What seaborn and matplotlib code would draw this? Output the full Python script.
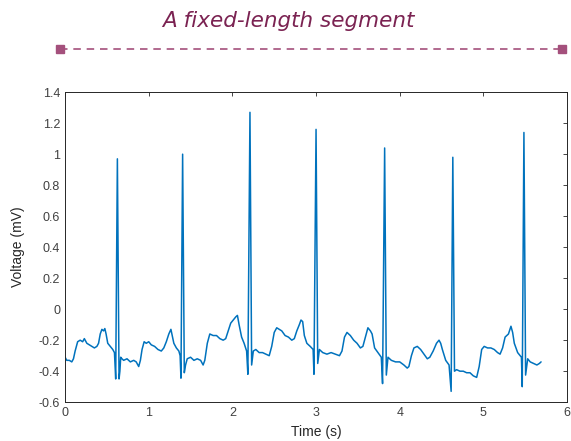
import numpy as np
import pandas as pd
import matplotlib
matplotlib.use("Agg")
import matplotlib.pyplot as plt
from matplotlib.lines import Line2D
import seaborn as sns

# ECG trace (time in s, voltage in mV)
tiempo = [
    0.00, 0.02, 0.05, 0.08, 0.10, 0.12, 0.15, 0.18, 0.21, 0.23, 0.26, 0.29, 0.32, 0.35, 0.38, 0.40,
    0.42, 0.44, 0.46, 0.475, 0.49, 0.51, 0.54, 0.57, 0.59, 0.605, 0.625, 0.645, 0.655, 0.665, 0.68,
    0.70, 0.74, 0.78, 0.82, 0.85, 0.88, 0.90, 0.92, 0.945, 0.97, 1.00, 1.03, 1.07, 1.11, 1.15, 1.18,
    1.21, 1.24, 1.265, 1.28, 1.30, 1.33, 1.36, 1.375, 1.385, 1.405, 1.425, 1.44, 1.46, 1.50, 1.54,
    1.58, 1.62, 1.65, 1.67, 1.70, 1.73, 1.77, 1.81, 1.85, 1.89, 1.92, 1.95, 1.98, 2.01, 2.04, 2.06,
    2.08, 2.11, 2.14, 2.17, 2.185, 2.21, 2.23, 2.25, 2.28, 2.32, 2.36, 2.40, 2.44, 2.47, 2.50, 2.53,
    2.56, 2.59, 2.63, 2.67, 2.71, 2.74, 2.77, 2.80, 2.82, 2.84, 2.86, 2.89, 2.93, 2.965, 2.975, 3.00,
    3.02, 3.04, 3.08, 3.13, 3.18, 3.23, 3.28, 3.31, 3.34, 3.37, 3.41, 3.45, 3.49, 3.53, 3.56, 3.59,
    3.62, 3.65, 3.67, 3.70, 3.74, 3.78, 3.795, 3.82, 3.84, 3.86, 3.90, 3.95, 4.00, 4.05, 4.09, 4.11,
    4.14, 4.17, 4.21, 4.25, 4.29, 4.33, 4.36, 4.40, 4.44, 4.47, 4.49, 4.51, 4.55, 4.59, 4.615, 4.635,
    4.655, 4.68, 4.72, 4.76, 4.80, 4.84, 4.88, 4.92, 4.95, 4.98, 5.01, 5.05, 5.09, 5.13, 5.17, 5.20,
    5.23, 5.26, 5.30, 5.33, 5.35, 5.37, 5.41, 5.455, 5.465, 5.485, 5.505, 5.53, 5.56, 5.60, 5.64,
    5.67, 5.69,
]
voltaje = [
    -0.31, -0.33, -0.33, -0.34, -0.32, -0.27, -0.21, -0.20, -0.21, -0.19, -0.22, -0.23, -0.24, -0.25, -0.24, -0.22,
    -0.16, -0.13, -0.14, -0.125, -0.16, -0.22, -0.24, -0.26, -0.28, -0.45, 0.97, -0.45, -0.40, -0.31, -0.32,
    -0.33, -0.32, -0.34, -0.33, -0.34, -0.37, -0.33, -0.26, -0.21, -0.22, -0.21, -0.23, -0.24, -0.26, -0.27, -0.25,
    -0.21, -0.16, -0.13, -0.17, -0.22, -0.25, -0.27, -0.30, -0.445, 1.00, -0.41, -0.36, -0.32, -0.31, -0.33,
    -0.32, -0.33, -0.36, -0.33, -0.22, -0.16, -0.17, -0.17, -0.19, -0.20, -0.19, -0.14, -0.09, -0.07, -0.05, -0.04,
    -0.10, -0.18, -0.22, -0.27, -0.42, 1.27, -0.36, -0.27, -0.26, -0.28, -0.28, -0.29, -0.30, -0.24, -0.15, -0.12,
    -0.13, -0.14, -0.17, -0.18, -0.20, -0.19, -0.14, -0.10, -0.07, -0.08, -0.17, -0.22, -0.24, -0.26, -0.42, 1.16,
    -0.35, -0.26, -0.28, -0.29, -0.28, -0.29, -0.30, -0.27, -0.18, -0.15, -0.17, -0.20, -0.22, -0.25, -0.24, -0.18,
    -0.12, -0.14, -0.16, -0.25, -0.28, -0.31, -0.48, 1.04, -0.425, -0.31, -0.33, -0.34, -0.34, -0.36, -0.38, -0.37,
    -0.30, -0.25, -0.24, -0.26, -0.29, -0.32, -0.31, -0.27, -0.22, -0.20, -0.22, -0.26, -0.33, -0.36, -0.53, 0.98,
    -0.40, -0.39, -0.40, -0.40, -0.41, -0.41, -0.43, -0.44, -0.37, -0.26, -0.24, -0.25, -0.25, -0.26, -0.28, -0.29,
    -0.25, -0.18, -0.16, -0.11, -0.15, -0.22, -0.28, -0.31, -0.50, 1.14, -0.425, -0.32, -0.34, -0.35, -0.36,
    -0.35, -0.34,
]

x_ticks = [0, 1, 2, 3, 4, 5, 6]
y_ticks = [-0.6, -0.4, -0.2, 0, 0.2, 0.4, 0.6, 0.8, 1, 1.2, 1.4]
y_labels = ['-0.6', '-0.4', '-0.2', '0', '0.2', '0.4', '0.6', '0.8', '1', '1.2', '1.4']

df = pd.DataFrame({'Time': tiempo, 'Voltage': voltaje})

sns.set_style("white")
plt.rcParams['font.family'] = ['Liberation Sans', 'DejaVu Sans']

fig = plt.figure(figsize=(5.71, 4.41), dpi=100)
ax = fig.add_axes([0.114, 0.088, 0.879, 0.703])

sns.lineplot(data=df, x='Time', y='Voltage', ax=ax, color='#0072BD',
             linewidth=1.1, estimator=None, sort=False)

ax.set_xlim(0, 6)
ax.set_ylim(-0.6, 1.4)
ax.set_xticks(x_ticks)
ax.set_yticks(y_ticks)
ax.set_yticklabels(y_labels)
ax.tick_params(direction='in', length=3, width=0.6, colors='#262626',
               labelsize=9, top=True, right=True, labelcolor='#404040')
for s in ax.spines.values():
    s.set_color('#262626')
    s.set_linewidth(0.7)
ax.set_xlabel('Time (s)', fontsize=10, color='#262626', labelpad=4)
ax.set_ylabel('Voltage (mV)', fontsize=10, color='#262626', labelpad=10)

# Titulo y segmento decorativo
fig.text(0.505, 0.952, 'A fixed-length segment', ha='center', va='center',
         fontsize=15.5, style='italic', color='#7b2352', family=['DejaVu Sans'])
fig.add_artist(Line2D([60 / 571, 562 / 571], [1 - 49 / 441, 1 - 49 / 441],
                      transform=fig.transFigure, color='#a4507c', linewidth=1.2,
                      linestyle=(0, (4.5, 3.5))))
fig.add_artist(Line2D([60 / 571, 562 / 571], [1 - 49 / 441, 1 - 49 / 441],
                      transform=fig.transFigure, color='#a4507c', linestyle='none',
                      marker='s', markersize=5.5))

fig.savefig('out.png', dpi=100)
